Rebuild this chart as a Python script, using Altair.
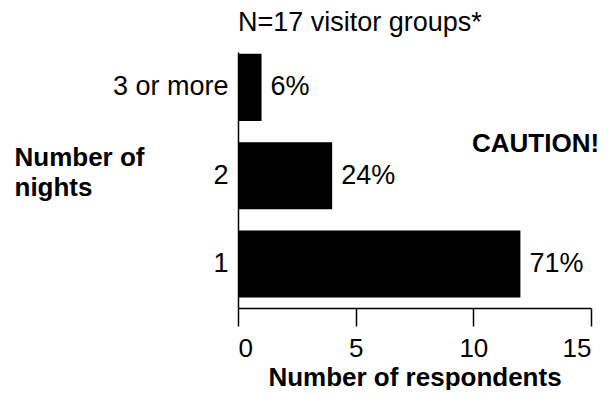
import altair as alt
import pandas as pd

# Data
nights = ["3 or more", "2", "1"]
respondents = [1, 4, 12]
percents = [6, 24, 71]
x_ticks = [0, 5, 10, 15]
chart_title = "N=17 visitor groups*"
caution_text = ["CAUTION!"]

df = pd.DataFrame({
    "nights": nights,
    "respondents": respondents,
    "label": [f"{p}%" for p in percents],
})

FONT = "Liberation Sans"

y_enc = alt.Y(
    "nights:N",
    sort=nights,
    scale=alt.Scale(paddingInner=0.24, paddingOuter=0.07, align=0.15),
    axis=alt.Axis(
        title=["Number of", "nights"],
        titleAngle=0,
        titleAlign="left",
        titleBaseline="top",
        titleX=-224,
        titleY=92,
        titleFont=FONT,
        titleFontSize=26,
        titleFontWeight="bold",
        titleColor="black",
        titleLineHeight=30,
        labelFont=FONT,
        labelFontSize=27,
        labelColor="black",
        labelPadding=10,
        labelLimit=0,
        ticks=False,
        domainColor="black",
        domainWidth=1.5,
    ),
)

x_enc = alt.X(
    "respondents:Q",
    scale=alt.Scale(domain=[0, 15], nice=False),
    axis=alt.Axis(
        values=x_ticks,
        title="Number of respondents",
        titleFont=FONT,
        titleFontSize=26,
        titleFontWeight="bold",
        titleColor="black",
        titlePadding=3,
        labelFont=FONT,
        labelFontSize=26,
        labelColor="black",
        labelPadding=9,
        labelFlush=9,
        tickSize=18,
        tickWidth=1.5,
        tickColor="black",
        domainColor="black",
        domainWidth=1.5,
        grid=False,
    ),
)

bars = alt.Chart(df).mark_bar(color="black").encode(x=x_enc, y=y_enc)

labels = alt.Chart(df).mark_text(
    align="left", baseline="middle", dx=9, fontSize=27, font=FONT, color="black"
).encode(x="respondents:Q", y=alt.Y("nights:N", sort=nights), text="label:N")

caution = alt.Chart(pd.DataFrame({"t": caution_text})).mark_text(
    align="left", baseline="alphabetic", fontSize=26, fontWeight="bold", font=FONT, color="black"
).encode(x=alt.value(234), y=alt.value(100), text="t:N")

chart = alt.layer(bars, labels, caution).properties(
    width=353,
    height=256,
    title=alt.TitleParams(
        chart_title,
        anchor="start",
        frame="group",
        font=FONT,
        fontSize=27,
        fontWeight="normal",
        color="black",
        offset=15,
    ),
    padding={"left": 230, "top": 44, "right": 9, "bottom": 82},
    autosize=alt.AutoSizeParams(type="none"),
).configure_view(stroke=None)

chart.save("out.html", embed_options={"renderer": "svg", "actions": False})
